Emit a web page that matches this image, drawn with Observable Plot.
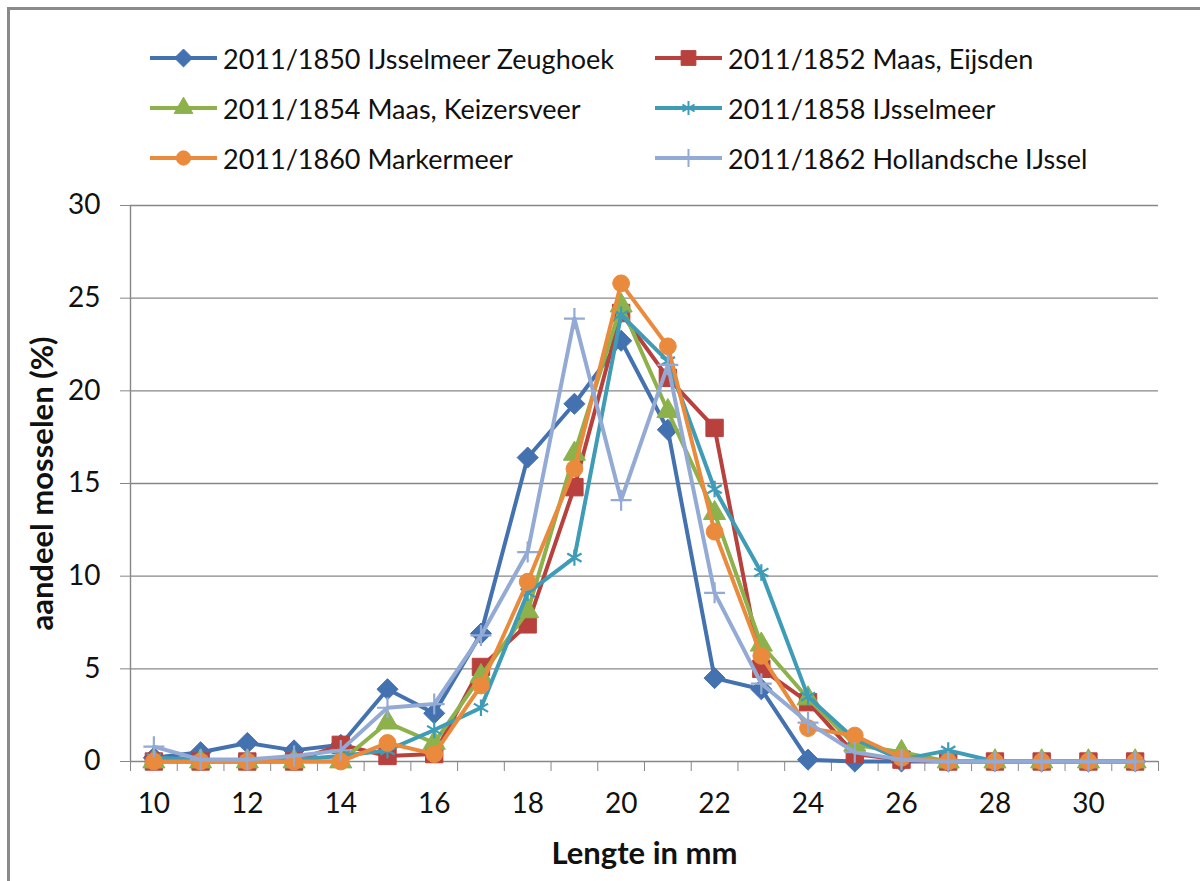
<!DOCTYPE html>
<html><head><meta charset="utf-8">
<script src="https://cdn.jsdelivr.net/npm/d3@7"></script>
<script src="https://cdn.jsdelivr.net/npm/@observablehq/plot@0.6"></script>
<style>
html,body{margin:0;padding:0;background:#fff;}
body{width:1200px;height:881px;overflow:hidden;position:relative;font-family:Lato,"DejaVu Sans",sans-serif;}
#frame{position:absolute;left:7px;top:7px;width:1300px;height:1000px;border-left:3px solid #8a8a8a;border-top:3px solid #8a8a8a;pointer-events:none;}
#legend{height:190px;box-sizing:border-box;padding:33px 0 0 150px;display:grid;grid-template-columns:505px 480px;grid-auto-rows:50px;}
.item{display:flex;align-items:center;font-size:27px;color:#111;white-space:nowrap;}
.item svg{margin-right:6px;flex:none;overflow:visible}
#chart svg{display:block;overflow:visible}
[aria-label="x-axis label"] text,[aria-label="y-axis label"] text{font-weight:700;font-size:31px}
</style></head><body>
<div id="legend"></div><div id="chart"></div><div id="frame"></div>
<script>
// Data
const lengths = [10,11,12,13,14,15,16,17,18,19,20,21,22,23,24,25,26,27,28,29,30,31];
const seriesNames = [
  "2011/1850 IJsselmeer Zeughoek",
  "2011/1852 Maas, Eijsden",
  "2011/1854 Maas, Keizersveer",
  "2011/1858 IJsselmeer",
  "2011/1860 Markermeer",
  "2011/1862 Hollandsche IJssel"
];
const s1850 = [0.2,0.5,1.0,0.6,0.9,3.9,2.6,6.9,16.4,19.3,22.7,17.9,4.5,3.9,0.1,0,0,0,0,0,0,0];
const s1852 = [0,0,0,0,0.9,0.3,0.4,5.1,7.4,14.8,24.2,20.7,18.0,5.0,3.2,0.4,0.1,0,0,0,0,0];
const s1854 = [0,0,0,0,0,2.1,1.0,4.6,8.1,16.6,24.6,18.9,13.4,6.3,3.4,0.9,0.5,0,0,0,0,0];
const s1858 = [0.2,0.1,0.1,0.1,0.3,0.6,1.7,2.9,9.1,11.0,24.1,21.6,14.7,10.2,3.5,1.2,0.1,0.6,0,0,0,0];
const s1860 = [0,0,0,0,0,1.0,0.4,4.1,9.7,15.8,25.8,22.4,12.4,5.7,1.8,1.4,0.2,0,0,0,0,0];
const s1862 = [0.8,0.1,0.1,0.3,0.6,2.9,3.1,6.8,11.3,23.9,14.1,21.4,9.1,4.2,2.1,0.5,0.1,0,0,0,0,0];
const seriesValues = [s1850, s1852, s1854, s1858, s1860, s1862];
const yTicks = [0,5,10,15,20,25,30];
const xTickLabels = [10,12,14,16,18,20,22,24,26,28,30];
const xDomain = [9.5, 31.5];

// Styles
const colors = ["#4472B0","#B8413E","#8DB14B","#3E9CB7","#EA8A3C","#93AAD5"];
const symbols = ["diamond2","square","triangle","asterisk","circle","plus"];
const radii = [9.5, 9.8, 8.2, 7.8, 8.4, 6.8];
const strokeOnly = [false,false,false,true,false,true];

const rows = [];
seriesNames.forEach((name, si) => {
  lengths.forEach((len, i) => rows.push({series: name, si, length: len, value: seriesValues[si][i]}));
});
const xBoundaries = d3.range(xDomain[0], xDomain[1] + 0.001, 1);

// Legend
const legend = document.getElementById("legend");
const symMap = {diamond2: d3.symbolDiamond2, square: d3.symbolSquare, triangle: d3.symbolTriangle,
                asterisk: d3.symbolAsterisk, circle: d3.symbolCircle, plus: d3.symbolPlus};
seriesNames.forEach((name, si) => {
  const item = document.createElement("div");
  item.className = "item";
  const svg = d3.create("svg").attr("width", 67).attr("height", 30);
  svg.append("line").attr("x1", 0).attr("x2", 67).attr("y1", 15).attr("y2", 15)
    .attr("stroke", colors[si]).attr("stroke-width", 4);
  const r = radii[si] * 0.85;
  svg.append("path").attr("transform", "translate(33.5,15)")
    .attr("d", d3.symbol(symMap[symbols[si]], Math.PI * r * r)())
    .attr("fill", strokeOnly[si] ? "none" : colors[si])
    .attr("stroke", colors[si]).attr("stroke-width", strokeOnly[si] ? 2 : 1);
  item.appendChild(svg.node());
  const span = document.createElement("span");
  span.textContent = name;
  item.appendChild(span);
  legend.appendChild(item);
});

const seriesMarks = [];
seriesNames.forEach((name, si) => {
  const data = rows.filter(d => d.si === si);
  seriesMarks.push(Plot.line(data, {x: "length", y: "value", stroke: colors[si], strokeWidth: 4, strokeLinejoin: "round"}));
  seriesMarks.push(Plot.dot(data, {
    x: "length", y: "value", symbol: symbols[si], r: radii[si],
    fill: strokeOnly[si] ? "none" : colors[si], stroke: colors[si],
    strokeWidth: strokeOnly[si] ? 2.2 : 1
  }));
});

const chart = Plot.plot({
  width: 1200,
  height: 691,
  marginTop: 15,
  marginLeft: 130,
  marginRight: 42,
  marginBottom: 120,
  x: {domain: xDomain},
  y: {domain: [0, 30]},
  style: {fontFamily: "Lato, 'DejaVu Sans', sans-serif", color: "#111", background: "transparent", overflow: "visible"},
  marks: [
    Plot.gridY(yTicks, {stroke: "#878787", strokeOpacity: 1, strokeWidth: 1.4}),
    Plot.ruleX([xDomain[0]], {stroke: "#878787", strokeWidth: 1.4}),
    Plot.axisY({ticks: yTicks, tickSize: 10, tickPadding: 20, fontSize: 28, stroke: "#878787",
      label: "aandeel mosselen (%)", labelAnchor: "center", labelArrow: "none", labelOffset: 100}),
    Plot.axisX({ticks: xBoundaries, tickSize: 10, tickFormat: () => "", stroke: "#878787", label: null}),
    Plot.axisX({ticks: xTickLabels, tickSize: 0, tickPadding: 32, fontSize: 28, tickFormat: d => String(d),
      label: "Lengte in mm", labelAnchor: "center", labelArrow: "none", labelOffset: 102}),
    ...seriesMarks
  ]
});
document.getElementById("chart").appendChild(chart);
</script>
</body></html>
